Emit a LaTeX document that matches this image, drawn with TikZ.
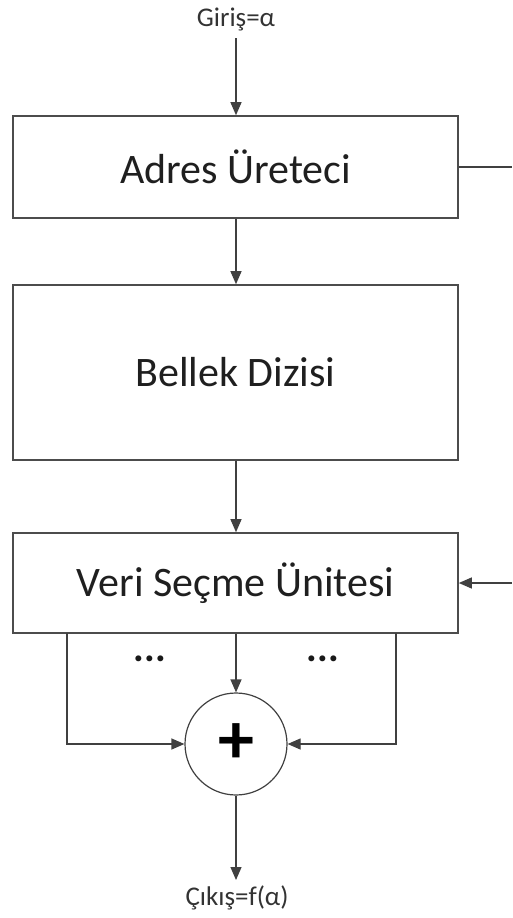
\documentclass[tikz,border=0pt]{standalone}
\usepackage{fontspec}
\setmainfont{Carlito}
\usetikzlibrary{arrows.meta}
\begin{document}
\begin{tikzpicture}[x=1pt,y=-1pt,
  blk/.style={draw=black!70,line width=1.6pt,minimum width=445pt,inner sep=0pt,font=\fontsize{42}{48}\selectfont,text=black!88},
  conn/.style={draw=black!75,line width=1.2pt},
  arr/.style={conn,-{Triangle[length=13pt,width=11pt]}},
  lbl/.style={font=\fontsize{27}{32}\selectfont,text=black!80,inner sep=0pt},
  dots/.style={font=\fontsize{40}{40}\selectfont\bfseries,inner sep=0pt,text=black!90}]
\useasboundingbox (0,0) rectangle (512,918);
\node[lbl] (in) at (236,19) {Giriş=α};
\node[blk,minimum height=102pt] (adr) at (235.5,167) {Adres Üreteci};
\node[blk,minimum height=175pt] (mem) at (235.5,372.5) {Bellek Dizisi};
\node[blk,minimum height=100pt] (sel) at (235.5,583) {Veri Seçme Ünitesi};
\node[draw=black!75,line width=1.2pt,circle,minimum size=102pt,inner sep=0pt,font=\fontsize{72}{72}\selectfont\bfseries] (sum) at (236,744) {+};
\node[lbl] (out) at (237,898) {Çıkış=f(α)};
\node[dots] (d1) at (150,659) {...};
\node[dots] (d2) at (323,659) {...};
\coordinate (rt) at (512,167);
\coordinate (rs) at (512,583);
\coordinate (sl) at (67,633);
\coordinate (sr) at (396,633);
\coordinate (i0) at (236,38);
\coordinate (o1) at (236,880);
\draw[arr] (i0) -- (i0 |- adr.north);
\draw[arr] (adr.south -| i0) -- (mem.north -| i0);
\draw[arr] (mem.south -| i0) -- (sel.north -| i0);
\draw[arr] (sel.south -| i0) -- (sum.north);
\draw[arr] (sl) |- (sum.west);
\draw[arr] (sr) |- (sum.east);
\draw[arr] (sum.south) -- (o1);
\draw[conn] (adr.east |- rt) -- (rt);
\draw[arr] (rs) -- (sel.east |- rs);
\end{tikzpicture}
\end{document}
